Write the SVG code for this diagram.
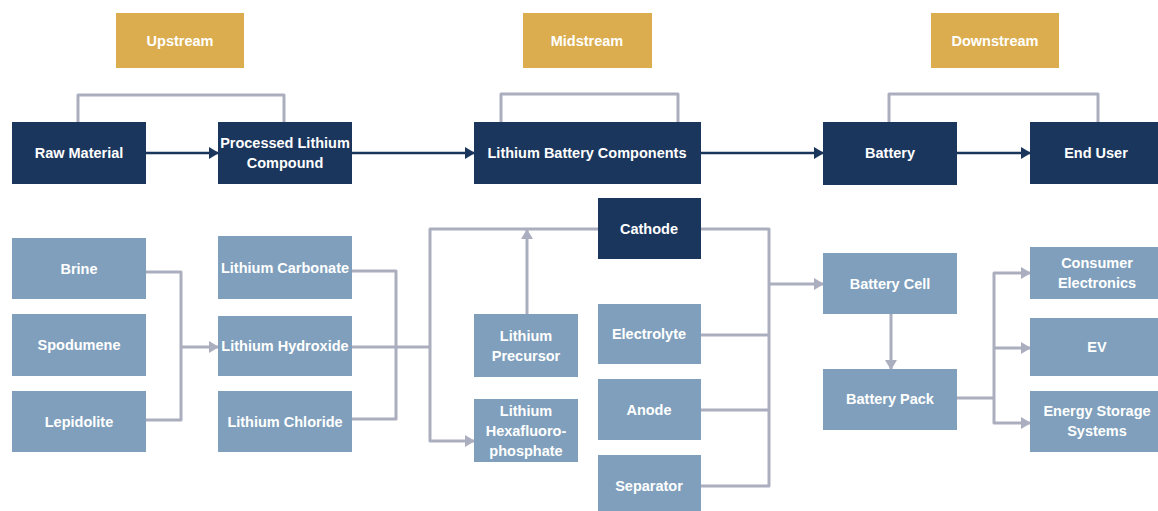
<svg xmlns="http://www.w3.org/2000/svg" width="1158" height="511" viewBox="0 0 1158 511">
<defs>
<style>
.hd{fill:#DBAD4E}
.dk{fill:#1B365D}
.lt{fill:#7F9FBC}
text{font-family:"Liberation Sans",Arial,sans-serif;font-weight:bold;font-size:14.5px;fill:#FFFFFF;text-anchor:middle;dominant-baseline:central}
.g{fill:none;stroke:#ABAEBE;stroke-width:3;stroke-linejoin:round}
.d{fill:none;stroke:#1B365D;stroke-width:2.5}
</style>
<marker id="ag" markerUnits="userSpaceOnUse" markerWidth="10" markerHeight="12" refX="9" refY="6" orient="auto"><path d="M0,0 L10,6 L0,12 Z" fill="#ABAEBE"/></marker>
<marker id="ad" markerUnits="userSpaceOnUse" markerWidth="10" markerHeight="12" refX="9" refY="6" orient="auto"><path d="M0,0 L10,6 L0,12 Z" fill="#1B365D"/></marker>
</defs>
<rect width="1158" height="511" fill="#FFFFFF"/>
<g id="connectors">
<path class="g" d="M78,122 V95 H284 V122"/>
<path class="g" d="M501,122 V94 H678 V122"/>
<path class="g" d="M889,122 V94 H1098 V122"/>
<path class="d" d="M146,153 H218" marker-end="url(#ad)"/>
<path class="d" d="M352,153 H474" marker-end="url(#ad)"/>
<path class="d" d="M701,153 H823" marker-end="url(#ad)"/>
<path class="d" d="M957,153 H1030" marker-end="url(#ad)"/>
<path class="g" d="M146,272 H181 V420 H146"/>
<path class="g" d="M181,347 H218" marker-end="url(#ag)"/>
<path class="g" d="M352,271 H396 V419 H352"/>
<path class="g" d="M352,347 H430"/>
<path class="g" d="M598,229 H430 V441 H474" marker-end="url(#ag)"/>
<path class="g" d="M527,314 V230" marker-end="url(#ag)"/>
<path class="g" d="M701,229 H769 V486 H701"/>
<path class="g" d="M701,335 H769"/>
<path class="g" d="M701,410 H769"/>
<path class="g" d="M769,284 H823" marker-end="url(#ag)"/>
<path class="g" d="M891,314 V369" marker-end="url(#ag)"/>
<path class="g" d="M957,398 H994"/>
<path class="g" d="M994,348 V273 H1030" marker-end="url(#ag)"/>
<path class="g" d="M994,348 V423 H1030" marker-end="url(#ag)"/>
<path class="g" d="M994,348 H1030" marker-end="url(#ag)"/>
</g>
<g id="upstream"><rect class="hd" x="116" y="13" width="128" height="55"/><text x="180" y="41">Upstream</text></g>
<g id="midstream"><rect class="hd" x="523" y="13" width="129" height="55"/><text x="587" y="41">Midstream</text></g>
<g id="downstream"><rect class="hd" x="931" y="13" width="128" height="55"/><text x="995" y="41">Downstream</text></g>
<g id="raw-material"><rect class="dk" x="12" y="122" width="134" height="62"/><text x="79" y="153">Raw Material</text></g>
<g id="processed-lithium"><rect class="dk" x="218" y="122" width="134" height="62"/><text x="285" y="143">Processed Lithium</text><text x="285" y="163">Compound</text></g>
<g id="lithium-battery-components"><rect class="dk" x="474" y="122" width="227" height="62"/><text x="587" y="153">Lithium Battery Components</text></g>
<g id="battery"><rect class="dk" x="823" y="122" width="134" height="63"/><text x="890" y="153">Battery</text></g>
<g id="end-user"><rect class="dk" x="1030" y="122" width="128" height="62"/><text x="1096" y="153">End User</text></g>
<g id="brine"><rect class="lt" x="12" y="238" width="134" height="61"/><text x="79" y="269">Brine</text></g>
<g id="spodumene"><rect class="lt" x="12" y="314" width="134" height="62"/><text x="79" y="345">Spodumene</text></g>
<g id="lepidolite"><rect class="lt" x="12" y="391" width="134" height="61"/><text x="79" y="422">Lepidolite</text></g>
<g id="lithium-carbonate"><rect class="lt" x="218" y="236" width="134" height="63"/><text x="285" y="268">Lithium Carbonate</text></g>
<g id="lithium-hydroxide"><rect class="lt" x="218" y="316" width="134" height="60"/><text x="285" y="346">Lithium Hydroxide</text></g>
<g id="lithium-chloride"><rect class="lt" x="218" y="391" width="134" height="61"/><text x="285" y="422">Lithium Chloride</text></g>
<g id="lithium-precursor"><rect class="lt" x="474" y="314" width="104" height="63"/><text x="526" y="336">Lithium</text><text x="526" y="356">Precursor</text></g>
<g id="lithium-hexafluorophosphate"><rect class="lt" x="474" y="399" width="104" height="63"/><text x="526" y="411">Lithium</text><text x="526" y="431">Hexafluoro-</text><text x="526" y="451">phosphate</text></g>
<g id="cathode"><rect class="dk" x="598" y="198" width="103" height="61"/><text x="649" y="229">Cathode</text></g>
<g id="electrolyte"><rect class="lt" x="598" y="304" width="103" height="60"/><text x="649" y="334">Electrolyte</text></g>
<g id="anode"><rect class="lt" x="598" y="379" width="103" height="61"/><text x="649" y="410">Anode</text></g>
<g id="separator"><rect class="lt" x="598" y="455" width="103" height="60"/><text x="649" y="486">Separator</text></g>
<g id="battery-cell"><rect class="lt" x="823" y="253" width="134" height="61"/><text x="890" y="284">Battery Cell</text></g>
<g id="battery-pack"><rect class="lt" x="823" y="369" width="134" height="61"/><text x="890" y="399">Battery Pack</text></g>
<g id="consumer-electronics"><rect class="lt" x="1030" y="247" width="128" height="52"/><text x="1097" y="263">Consumer</text><text x="1097" y="283">Electronics</text></g>
<g id="ev"><rect class="lt" x="1030" y="318" width="128" height="58"/><text x="1097" y="347">EV</text></g>
<g id="energy-storage"><rect class="lt" x="1030" y="391" width="128" height="61"/><text x="1097" y="411">Energy Storage</text><text x="1097" y="431">Systems</text></g>
</svg>
